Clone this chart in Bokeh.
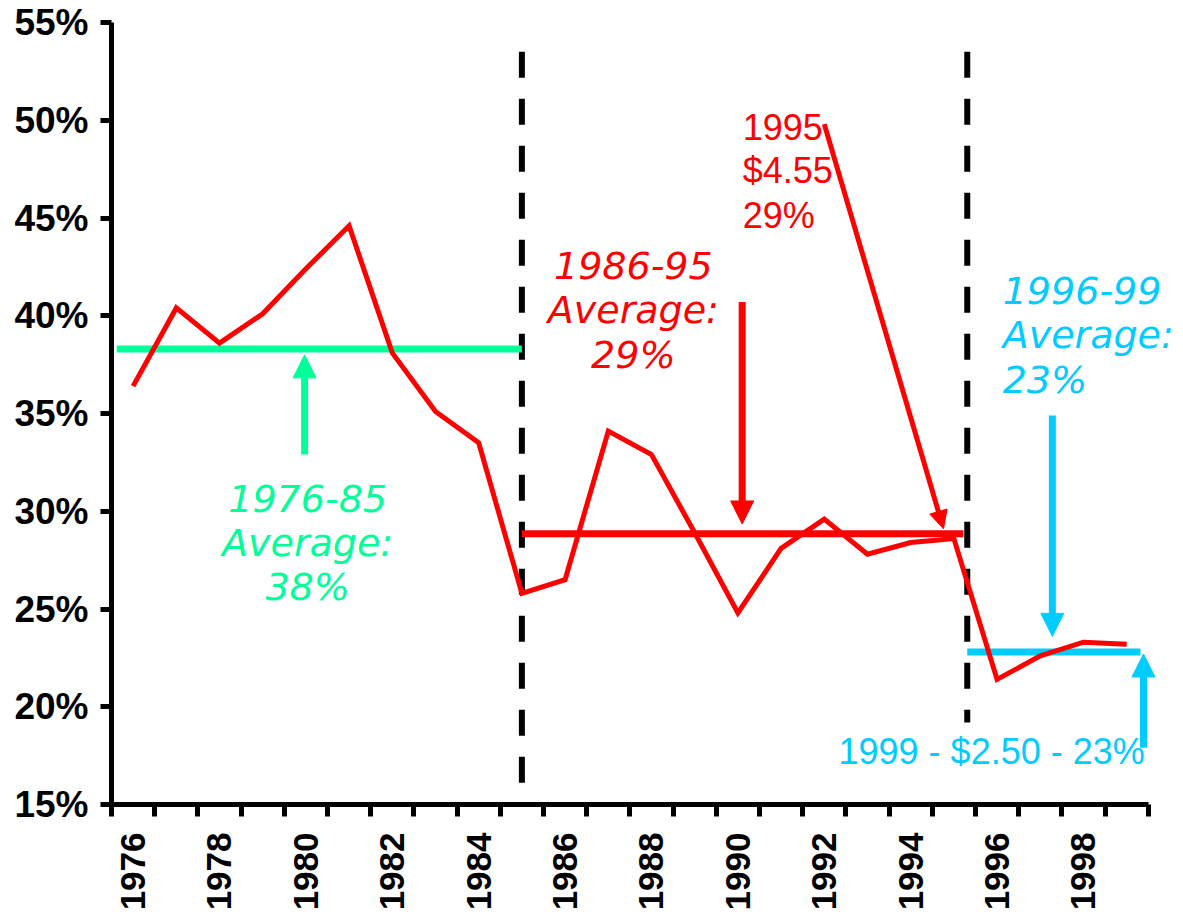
import math
from bokeh.plotting import figure
from bokeh.models import FixedTicker, PrintfTickFormatter, BasicTickFormatter, Label, Arrow, NormalHead
from bokeh.embed import file_html
from bokeh.resources import INLINE

# ---- data ----
years = [1976, 1977, 1978, 1979, 1980, 1981, 1982, 1983, 1984, 1985, 1986, 1987,
         1988, 1989, 1990, 1991, 1992, 1993, 1994, 1995, 1996, 1997, 1998, 1999]
share = [36.4, 40.4, 38.6, 40.1, 42.4, 44.6, 38.1, 35.1, 33.5, 25.8, 26.5, 34.1,
         32.9, 28.9, 24.8, 28.1, 29.6, 27.8, 28.4, 28.6, 21.4, 22.6, 23.3, 23.2]

periods = ["1976-85", "1986-95", "1996-99"]
period_avg = [38.3, 28.85, 22.8]
period_avg_labels = ["38%", "29%", "23%"]

y_ticks = [15, 20, 25, 30, 35, 40, 45, 50, 55]
x_label_years = [1976, 1978, 1980, 1982, 1984, 1986, 1988, 1990, 1992, 1994, 1996, 1998]

GREEN = "#00FF99"
RED = "#FF0000"
CYAN = "#00CCFF"

# ---- figure ----
p = figure(frame_width=1067, frame_height=782, x_range=(1975.5, 2000.2), y_range=(15, 55),
           output_backend="svg", toolbar_location=None,
           min_border_left=111, min_border_right=2, min_border_top=22, min_border_bottom=110)
p.outline_line_color = None
p.xgrid.visible = False
p.ygrid.visible = False
p.background_fill_color = "white"
p.border_fill_color = "white"

# y axis
ya = p.yaxis[0]
ya.ticker = FixedTicker(ticks=y_ticks, minor_ticks=[])
ya.formatter = PrintfTickFormatter(format="%d%%")
ya.axis_line_width = 5
ya.axis_line_color = "black"
ya.major_tick_line_width = 5
ya.major_tick_out = 11
ya.major_tick_in = 0
ya.minor_tick_line_color = None
ya.major_label_text_font = "Liberation Sans"
ya.major_label_text_font_style = "bold"
ya.major_label_text_font_size = "37px"
ya.major_label_text_color = "black"
ya.major_label_standoff = 12

# x axis
xa = p.xaxis[0]
boundaries = [y - 0.5 for y in years] + [years[-1] + 0.5]
xa.bounds = (years[0] - 0.5, years[-1] + 0.5)
xa.ticker = FixedTicker(ticks=x_label_years, minor_ticks=boundaries)
xa.formatter = BasicTickFormatter(use_scientific=False)
xa.axis_line_width = 5
xa.axis_line_color = "black"
xa.major_tick_out = 0
xa.major_tick_in = 0
xa.major_tick_line_color = None
xa.minor_tick_out = 12
xa.minor_tick_in = 0
xa.minor_tick_line_width = 5
xa.minor_tick_line_color = "black"
xa.major_label_orientation = math.pi / 2
xa.major_label_text_font = "Liberation Sans"
xa.major_label_text_font_style = "bold"
xa.major_label_text_font_size = "35px"
xa.major_label_text_color = "black"
xa.major_label_standoff = 16

# dashed separators
p.segment(x0=[1985, 1995.31], y0=[53.5, 53.5], x1=[1985, 1995.31], y1=[15.0, 19.2],
          line_color="black", line_width=6, line_dash="26 21")

# period averages
p.segment(x0=[1975.62, 1985.0, 1995.31], y0=period_avg,
          x1=[1985.0, 1995.22, 1999.32], y1=period_avg,
          line_color=[GREEN, RED, CYAN], line_width=7)

# data line
p.line(years, share, line_color=RED, line_width=5, line_join="miter")

# arrows
def arrow(x0, y0, x1, y1, color, width, size):
    p.add_layout(Arrow(x_start=x0, y_start=y0, x_end=x1, y_end=y1,
                       line_color=color, line_width=width,
                       end=NormalHead(size=size, fill_color=color, line_color=color, line_width=1)))

arrow(1979.97, 32.9, 1979.97, 38.0, GREEN, 7, 23)
arrow(1990.1, 40.7, 1990.1, 29.35, RED, 7, 23)
arrow(1992.0, 49.8, 1994.76, 29.1, RED, 5, 18)
arrow(1997.28, 34.9, 1997.28, 23.6, CYAN, 7, 23)
arrow(1999.39, 17.9, 1999.39, 22.7, CYAN, 7, 23)

# texts
SHIFT = 0.72  # baseline correction in data units

def label(x, y, text, color, align="left", italic=False, font="Liberation Sans", size="36px"):
    p.add_layout(Label(x=x, y=y + SHIFT, text=text, text_color=color, text_align=align,
                       text_baseline="alphabetic", text_font=font, text_font_size=size,
                       text_font_style="italic" if italic else "normal"))

# 1976-85 average
for txt, yy in zip([periods[0], "Average:", period_avg_labels[0]], [29.91, 27.67, 25.42]):
    label(1980.04, yy, txt, GREEN, align="center", italic=True, font="DejaVu Sans", size="38px")
# 1986-95 average
for txt, yy in zip([periods[1], "Average:", period_avg_labels[1]], [41.86, 39.57, 37.27]):
    label(1987.58, yy, txt, RED, align="center", italic=True, font="DejaVu Sans", size="38px")
# 1996-99 average
for txt, yy in zip([periods[2], "Average:", period_avg_labels[2]], [40.59, 38.29, 35.99]):
    label(1996.13, yy, txt, CYAN, align="left", italic=True, font="DejaVu Sans", size="38px")

# 1995 callout
for txt, yy in zip(["1995", "$4.55", "29%"], [48.91, 46.72, 44.42]):
    label(1990.11, yy, txt, RED, align="left")

# 1999 callout
label(1992.33, 16.99, "1999 - $2.50 - 23%", CYAN, align="left")

open("out.html", "w").write(file_html(p, INLINE))
